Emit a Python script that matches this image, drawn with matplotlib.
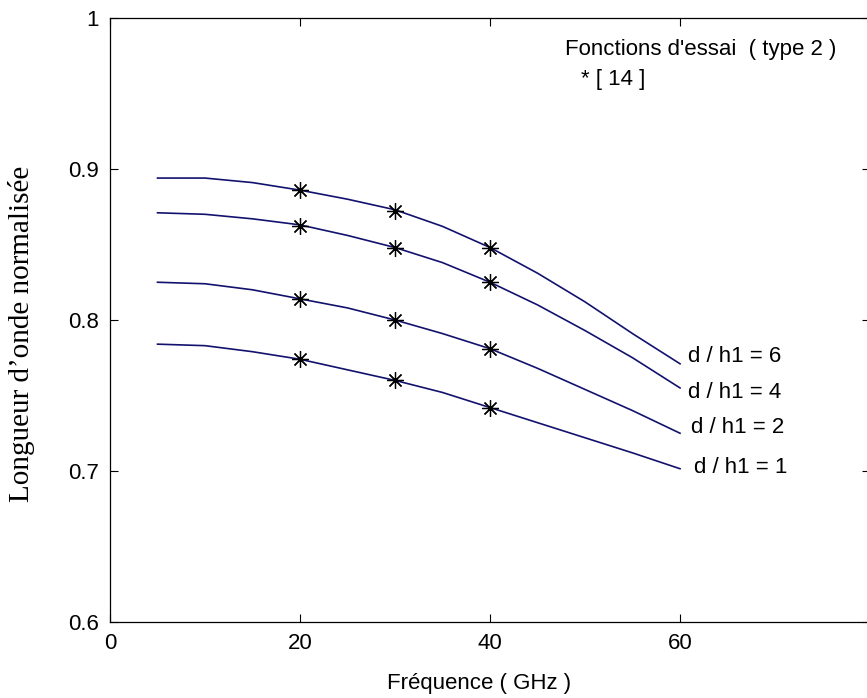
import numpy as np
import matplotlib
matplotlib.use('Agg')
import matplotlib.pyplot as plt

# normalised wavelength vs frequency, four d/h1 ratios
freq = [5, 10, 15, 20, 25, 30, 35, 40, 45, 50, 55, 60]
lam_6 = [0.894, 0.894, 0.891, 0.886, 0.880, 0.873, 0.862, 0.848, 0.831, 0.812, 0.791, 0.771]
lam_4 = [0.871, 0.870, 0.867, 0.863, 0.856, 0.848, 0.838, 0.825, 0.810, 0.793, 0.775, 0.755]
lam_2 = [0.825, 0.824, 0.820, 0.814, 0.808, 0.800, 0.791, 0.781, 0.768, 0.754, 0.740, 0.725]
lam_1 = [0.784, 0.783, 0.779, 0.774, 0.767, 0.760, 0.752, 0.742, 0.732, 0.722, 0.712, 0.7015]

# reference [14] points
ref_freq = [20, 30, 40]
ref_6 = [0.886, 0.872, 0.848]
ref_4 = [0.862, 0.848, 0.825]
ref_2 = [0.814, 0.800, 0.781]
ref_1 = [0.774, 0.760, 0.742]

labels = ['d / h1 = 6', 'd / h1 = 4', 'd / h1 = 2', 'd / h1 = 1']
label_x = [60.8, 60.8, 61.2, 61.5]
label_y = [0.7755, 0.7517, 0.7291, 0.7026]
xticks = [0, 20, 40, 60]
yticks = [0.6, 0.7, 0.8, 0.9, 1.0]
ytick_labels = ['0.6', '0.7', '0.8', '0.9', '1']

sans = 'Liberation Sans'
fs = 16

fig = plt.figure(figsize=(8.67, 6.98), dpi=100)
ax = fig.add_axes([0.1269, 0.1089, 0.8766, 0.8653])

line_col = '#12126e'
for lam, ref in zip([lam_6, lam_4, lam_2, lam_1], [ref_6, ref_4, ref_2, ref_1]):
    ax.plot(freq, lam, color=line_col, lw=1.2)
    ax.plot(ref_freq, ref, ls='none', marker=(8, 2, 0), ms=12, mec='black', mew=0.9)

for lab, lx, ly in zip(labels, label_x, label_y):
    ax.text(lx, ly, lab, fontsize=fs, family=sans, ha='left', va='center')

ax.text(47.9, 0.979, "Fonctions d'essai  ( type 2 )", fontsize=fs, family=sans, va='center')
ax.text(49.6, 0.959, '* [ 14 ]', fontsize=fs, family=sans, va='center')

ax.set_xlim(0, 80)
ax.set_ylim(0.6, 1.0)
ax.set_xticks(xticks)
ax.set_yticks(yticks)
ax.set_yticklabels(ytick_labels)
ax.tick_params(direction='in', length=6, width=0.8, top=True, right=True, labelsize=fs, pad=8)
for lbl in ax.get_xticklabels() + ax.get_yticklabels():
    lbl.set_family(sans)
for sp in ax.spines.values():
    sp.set_linewidth(0.9)

ax.set_xlabel('Fréquence ( GHz )', fontsize=fs, family=sans)
ax.xaxis.set_label_coords(0.486, -0.085)
ax.set_ylabel('Longueur d’onde normalisée', fontsize=21, family='Liberation Serif')
ax.yaxis.set_label_coords(-0.099, 0.477)

fig.savefig('out.png', dpi=100)
